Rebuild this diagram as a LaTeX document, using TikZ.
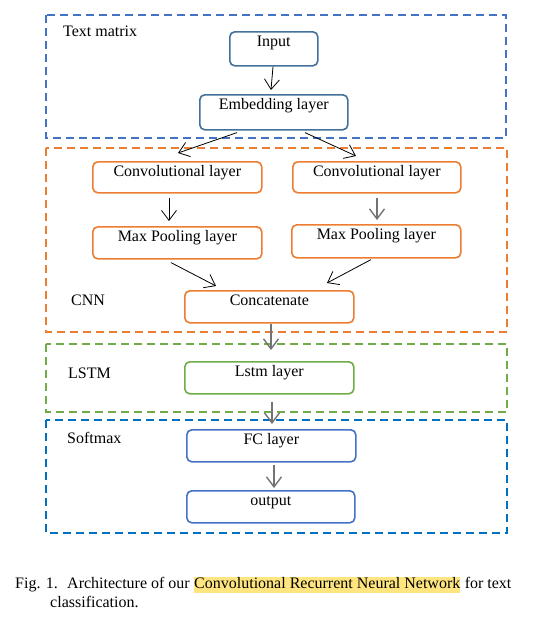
\documentclass[tikz,border=0pt]{standalone}
\usepackage{fontspec}
\setmainfont{Liberation Serif}
\usetikzlibrary{arrows.meta}
\definecolor{tmblue}{HTML}{4472C4}
\definecolor{cnnor}{HTML}{ED7D31}
\definecolor{lsgreen}{HTML}{70AD47}
\definecolor{smblue}{HTML}{0070C0}
\definecolor{inblue}{HTML}{41719C}
\definecolor{hlyellow}{HTML}{FFE57F}
\tikzset{
  grp/.style={dash pattern=on 8pt off 5pt, line width=1.6pt},
  blk/.style={draw, rounded corners=5pt, line width=1.6pt, fill=white, anchor=north west,
    inner xsep=0pt, inner ysep=3pt, text height=12pt, align=center},
  arr/.style={-{Straight Barb[length=10pt,width=15pt]}, line width=0.8pt, black},
  garr/.style={-{Straight Barb[length=10pt,width=15pt]}, line width=1.4pt, black!55},
  lbl/.style={anchor=west, inner sep=0pt},
}
\begin{document}
\begin{tikzpicture}[x=1pt,y=-1pt,font=\fontsize{16}{19}\selectfont]
\useasboundingbox (0,0) rectangle (553,619);
% group frames
\draw[grp, tmblue] (46,15) rectangle (506,138);
\draw[grp, cnnor] (46,148) rectangle (507,332);
\draw[grp, lsgreen] (46,344) rectangle (507,412);
\draw[grp, smblue] (46,420) rectangle (507,533);
% group labels
\node[lbl] (ltm) at (63,31) {Text matrix};
\node[lbl] (lcnn) at (71,300) {CNN};
\node[lbl] (llstm) at (68,373) {LSTM};
\node[lbl] (lsm) at (67,438) {Softmax};
% blocks
\node[blk, draw=inblue, minimum width=88pt, text depth=16pt] (input) at (229,31) {Input};
\node[blk, draw=inblue, minimum width=148pt, text depth=17pt] (emb) at (199,94) {Embedding layer};
\node[blk, draw=cnnor, minimum width=169pt, text depth=13pt] (conv1) at (92,161) {Convolutional layer};
\node[blk, draw=cnnor, minimum width=168pt, text depth=13pt] (conv2) at (292,161) {Convolutional layer};
\node[blk, draw=cnnor, minimum width=169pt, text depth=14pt] (max1) at (92,226) {Max Pooling layer};
\node[blk, draw=cnnor, minimum width=169pt, text depth=15pt] (max2) at (291,224) {Max Pooling layer};
\node[blk, draw=cnnor, minimum width=169pt, text depth=14pt] (concat) at (184,290) {Concatenate};
\node[blk, draw=lsgreen, minimum width=169pt, text depth=14pt] (lstm) at (184,361) {Lstm layer};
\node[blk, draw=tmblue, minimum width=169pt, text depth=14pt] (fc) at (186,429) {FC layer};
\node[blk, draw=tmblue, minimum width=168pt, text depth=14pt] (out) at (186,490) {output};
% arrows
\draw[arr] ([xshift=44pt]input.south west) -- ([xshift=72pt,yshift=4pt]emb.north west);
\draw[arr] ([xshift=38pt,yshift=-2pt]emb.south west) -- ([xshift=86pt,yshift=8pt]conv1.north west);
\draw[arr] ([xshift=106pt,yshift=-2pt]emb.south west) -- ([xshift=64pt,yshift=5pt]conv2.north west);
\draw[arr] ([xshift=77pt,yshift=-4pt]conv1.south west) -- ([xshift=77pt,yshift=5pt]max1.north west);
\draw[garr] ([xshift=85pt,yshift=-4pt]conv2.south west) -- ([xshift=86pt,yshift=4pt]max2.north west);
\draw[arr] ([xshift=79pt,yshift=-3pt]max1.south west) -- ([xshift=32pt,yshift=4pt]concat.north west);
\draw[arr] ([xshift=80pt,yshift=-1pt]max2.south west) -- ([xshift=143pt,yshift=7pt]concat.north west);
\draw[garr] ([xshift=87pt]concat.south west) -- ([xshift=87pt,yshift=11pt]lstm.north west);
\draw[garr] ([xshift=88pt,yshift=-7pt]lstm.south west) -- ([xshift=86pt,yshift=5pt]fc.north west);
\draw[garr] ([xshift=88pt,yshift=-2pt]fc.south west) -- ([xshift=88pt,yshift=2pt]out.north west);
% caption
\node[anchor=base west, inner sep=0pt] (fig) at (15,588) {Fig. 1.};
\node[anchor=base west, inner sep=0pt] (arch) at (67,588) {Architecture of our};
\node[anchor=base west, inner xsep=0pt, inner ysep=0pt, text height=11pt, text depth=5pt, fill=hlyellow] (hl) at (194,588) {Convolutional Recurrent Neural Network};
\node[anchor=base west, inner sep=0pt] (fortext) at ([xshift=4pt]hl.base east) {for text};
\node[anchor=base west, inner sep=0pt] (cls) at (50,607) {classification.};
\end{tikzpicture}
\end{document}
